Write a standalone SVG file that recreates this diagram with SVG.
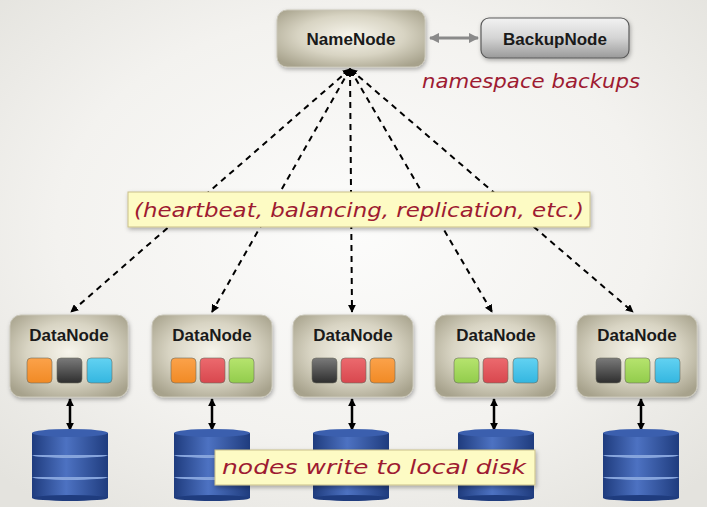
<svg xmlns="http://www.w3.org/2000/svg" width="707" height="507" viewBox="0 0 707 507">
<defs>
<radialGradient id="bg" cx="50%" cy="45%" r="70%">
<stop offset="0" stop-color="#fcfcfb"/><stop offset="0.6" stop-color="#f3f2ef"/><stop offset="1" stop-color="#e4e3de"/>
</radialGradient>
<radialGradient id="khaki" cx="50%" cy="45%" r="65%">
<stop offset="0" stop-color="#f7f5ec"/><stop offset="0.55" stop-color="#d8d4c3"/><stop offset="1" stop-color="#a7a28c"/>
</radialGradient>
<linearGradient id="gray" x1="0" y1="0" x2="0" y2="1">
<stop offset="0" stop-color="#f2f2f2"/><stop offset="0.5" stop-color="#d4d4d4"/><stop offset="1" stop-color="#9a9a9a"/>
</linearGradient>
<linearGradient id="disk" x1="0" y1="0" x2="1" y2="0">
<stop offset="0" stop-color="#1f3c7e"/><stop offset="0.45" stop-color="#4d72c2"/><stop offset="1" stop-color="#1f3c7e"/>
</linearGradient>
<linearGradient id="sqO" x1="0" y1="0" x2="0" y2="1"><stop offset="0" stop-color="#fba24a"/><stop offset="1" stop-color="#f18a25"/></linearGradient>
<linearGradient id="sqK" x1="0" y1="0" x2="0" y2="1"><stop offset="0" stop-color="#7a7a7a"/><stop offset="1" stop-color="#2e2e2e"/></linearGradient>
<linearGradient id="sqC" x1="0" y1="0" x2="0" y2="1"><stop offset="0" stop-color="#62d2f2"/><stop offset="1" stop-color="#34b6e0"/></linearGradient>
<linearGradient id="sqR" x1="0" y1="0" x2="0" y2="1"><stop offset="0" stop-color="#ec6a6e"/><stop offset="1" stop-color="#d8474e"/></linearGradient>
<linearGradient id="sqG" x1="0" y1="0" x2="0" y2="1"><stop offset="0" stop-color="#b6e46e"/><stop offset="1" stop-color="#92cc4c"/></linearGradient>
<filter id="sh" x="-20%" y="-20%" width="140%" height="150%">
<feDropShadow dx="1" dy="2" stdDeviation="2" flood-color="#000" flood-opacity="0.3"/>
</filter>
<marker id="ah" viewBox="0 0 10 10" refX="9" refY="5" markerWidth="4" markerHeight="4" orient="auto-start-reverse" markerUnits="strokeWidth">
<path d="M0,0 L10,5 L0,10 z" fill="#000"/>
</marker>
<marker id="ahb" viewBox="0 0 10 10" refX="9" refY="5" markerWidth="3.2" markerHeight="3.2" orient="auto-start-reverse" markerUnits="strokeWidth">
<path d="M0,0 L10,5 L0,10 z" fill="#000"/>
</marker>
<marker id="ahg" viewBox="0 0 10 10" refX="9" refY="5" markerWidth="3.5" markerHeight="3.5" orient="auto-start-reverse" markerUnits="strokeWidth">
<path d="M0,0 L10,5 L0,10 z" fill="#8a8a8a"/>
</marker>
<g id="dsk">
<rect x="0" y="44" width="76" height="21" fill="url(#disk)"/>
<ellipse cx="38" cy="65" rx="38" ry="3" fill="#1f3c7e"/>
<ellipse cx="38" cy="44" rx="38" ry="3" fill="#86a4dc"/>
<rect x="0" y="22" width="76" height="22" fill="url(#disk)"/>
<ellipse cx="38" cy="22" rx="38" ry="3" fill="#86a4dc"/>
<rect x="0" y="0" width="76" height="22" fill="url(#disk)"/>
<ellipse cx="38" cy="0" rx="38" ry="4" fill="#3b5fae"/>
</g>
</defs>
<style>
.lbl{font-family:"Liberation Sans",Arial,sans-serif;font-weight:bold;font-size:17px;fill:#1a1a1a;text-anchor:middle}
.hand{font-family:"DejaVu Sans",sans-serif;font-style:italic;font-size:20px;fill:#9e1b32}
.box{fill:url(#khaki);stroke:#c9c6b8;stroke-width:1;filter:url(#sh)}
.sq{stroke:#6b6b60;stroke-width:0.6}
.note{fill:#fdfbc4;stroke:#c9bf8a;stroke-width:1;filter:url(#sh)}
.dash{stroke:#000;stroke-width:2;stroke-dasharray:6 5;fill:none;marker-start:url(#ah);marker-end:url(#ah)}
.dbl{stroke:#000;stroke-width:2.5;fill:none;marker-start:url(#ahb);marker-end:url(#ahb)}
</style>
<rect width="707" height="507" fill="url(#bg)"/>

<g id="connectors">
<line class="dash" x1="350" y1="69" x2="71" y2="312"/>
<line class="dash" x1="350" y1="69" x2="212" y2="312"/>
<line class="dash" x1="350" y1="69" x2="352" y2="312"/>
<line class="dash" x1="350" y1="69" x2="492" y2="312"/>
<line class="dash" x1="350" y1="69" x2="633" y2="312"/>
<line x1="430" y1="38" x2="478" y2="38" stroke="#8a8a8a" stroke-width="3" marker-start="url(#ahg)" marker-end="url(#ahg)"/>
<line class="dbl" x1="70" y1="399" x2="70" y2="430"/>
<line class="dbl" x1="212" y1="399" x2="212" y2="430"/>
<line class="dbl" x1="352" y1="399" x2="352" y2="430"/>
<line class="dbl" x1="494" y1="399" x2="494" y2="430"/>
<line class="dbl" x1="641" y1="399" x2="641" y2="430"/>
</g>

<g id="namenode">
<rect class="box" x="277" y="10" width="148" height="57" rx="10"/>
<text class="lbl" x="351" y="45">NameNode</text>
</g>
<g id="backupnode">
<rect x="481" y="18" width="148" height="40" rx="8" fill="url(#gray)" stroke="#5a5a5a" stroke-width="1.2" filter="url(#sh)"/>
<text class="lbl" x="555" y="45">BackupNode</text>
</g>
<text class="hand" x="422" y="88" textLength="218" lengthAdjust="spacingAndGlyphs">namespace backups</text>

<g id="datanode1">
<rect class="box" x="10" y="315" width="118" height="82" rx="11"/>
<text class="lbl" x="69" y="341">DataNode</text>
<rect class="sq" x="27" y="358" width="25" height="25" rx="4" fill="url(#sqO)"/>
<rect class="sq" x="57" y="358" width="25" height="25" rx="4" fill="url(#sqK)"/>
<rect class="sq" x="87" y="358" width="25" height="25" rx="4" fill="url(#sqC)"/>
</g>
<g id="datanode2">
<rect class="box" x="152" y="315" width="120" height="82" rx="11"/>
<text class="lbl" x="212" y="341">DataNode</text>
<rect class="sq" x="171" y="358" width="25" height="25" rx="4" fill="url(#sqO)"/>
<rect class="sq" x="200" y="358" width="25" height="25" rx="4" fill="url(#sqR)"/>
<rect class="sq" x="229" y="358" width="25" height="25" rx="4" fill="url(#sqG)"/>
</g>
<g id="datanode3">
<rect class="box" x="293" y="315" width="120" height="82" rx="11"/>
<text class="lbl" x="353" y="341">DataNode</text>
<rect class="sq" x="312" y="358" width="25" height="25" rx="4" fill="url(#sqK)"/>
<rect class="sq" x="341" y="358" width="25" height="25" rx="4" fill="url(#sqR)"/>
<rect class="sq" x="370" y="358" width="25" height="25" rx="4" fill="url(#sqO)"/>
</g>
<g id="datanode4">
<rect class="box" x="435" y="315" width="121" height="82" rx="11"/>
<text class="lbl" x="496" y="341">DataNode</text>
<rect class="sq" x="454" y="358" width="25" height="25" rx="4" fill="url(#sqG)"/>
<rect class="sq" x="483" y="358" width="25" height="25" rx="4" fill="url(#sqR)"/>
<rect class="sq" x="513" y="358" width="25" height="25" rx="4" fill="url(#sqC)"/>
</g>
<g id="datanode5">
<rect class="box" x="577" y="315" width="120" height="82" rx="11"/>
<text class="lbl" x="637" y="341">DataNode</text>
<rect class="sq" x="596" y="358" width="25" height="25" rx="4" fill="url(#sqK)"/>
<rect class="sq" x="625" y="358" width="25" height="25" rx="4" fill="url(#sqG)"/>
<rect class="sq" x="655" y="358" width="25" height="25" rx="4" fill="url(#sqC)"/>
</g>

<g id="disk1"><use href="#dsk" x="32" y="433"/></g>
<g id="disk2"><use href="#dsk" x="174" y="433"/></g>
<g id="disk3"><use href="#dsk" x="313" y="433"/></g>
<g id="disk4"><use href="#dsk" x="458" y="433"/></g>
<g id="disk5"><use href="#dsk" x="603" y="433"/></g>

<g id="note-heartbeat">
<rect class="note" x="128" y="192" width="462" height="35"/>
<text class="hand" x="134" y="217" font-size="22" textLength="450" lengthAdjust="spacingAndGlyphs">(heartbeat, balancing, replication, etc.)</text>
</g>
<g id="note-disk">
<rect class="note" x="215" y="450" width="320" height="35"/>
<text class="hand" x="222" y="474" font-size="22" textLength="304" lengthAdjust="spacingAndGlyphs">nodes write to local disk</text>
</g>
</svg>
